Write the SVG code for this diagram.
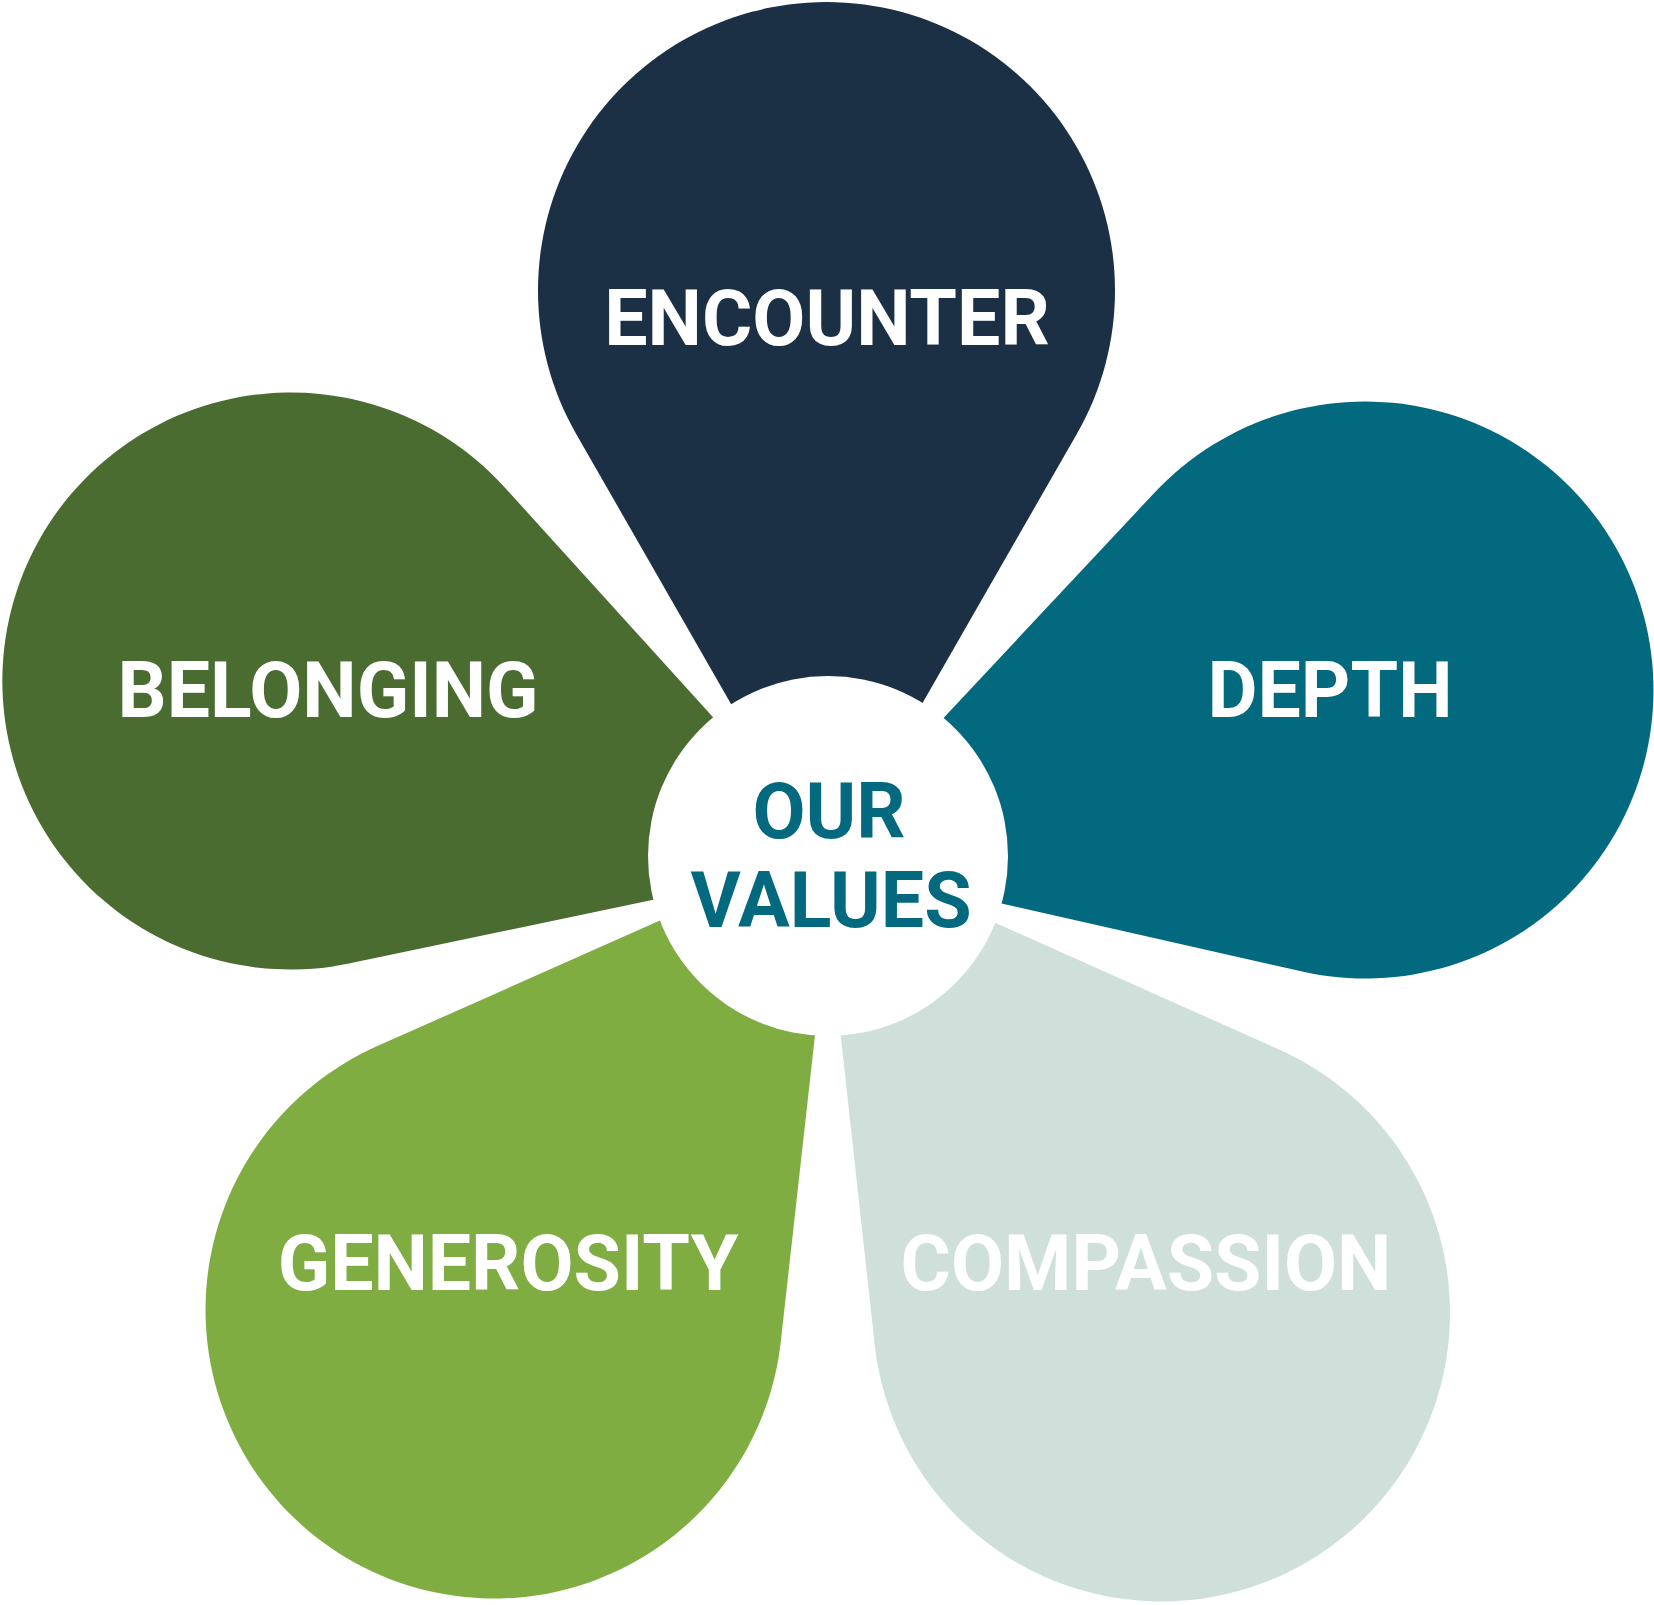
<svg xmlns="http://www.w3.org/2000/svg" width="1654" height="1605" viewBox="0 0 1654 1605">
  <defs>
    <style>
      .lbl { font-family: Roboto, "Liberation Sans", Arial, sans-serif; font-weight: 700; font-size: 77px; fill: #ffffff; text-anchor: middle; }
      .ctr { font-family: Roboto, "Liberation Sans", Arial, sans-serif; font-weight: 700; font-size: 77px; fill: #02697e; text-anchor: middle; }
    </style>
    <path id="petal" d="M 580 0 L 143.5 250.3 A 288.5 288.5 0 1 1 143.5 -250.3 Z"/>
  </defs>
  <rect width="1654" height="1605" fill="#ffffff"/>
  <g id="petal-encounter">
    <use href="#petal" transform="translate(826.5 290.5) rotate(90)" fill="#1b3044"/>
    <text class="lbl" x="827" y="345">ENCOUNTER</text>
  </g>
  <g id="petal-depth">
    <use href="#petal" transform="translate(1365 690) rotate(162.95)" fill="#02697e"/>
    <text class="lbl" x="1330" y="717">DEPTH</text>
  </g>
  <g id="petal-belonging">
    <use href="#petal" transform="translate(290.8 681) rotate(17.98)" fill="#4b6c30"/>
    <text class="lbl" x="328" y="717">BELONGING</text>
  </g>
  <g id="petal-generosity">
    <use href="#petal" transform="translate(494 1310) rotate(-53.8)" fill="#7fad41"/>
    <text class="lbl" x="508" y="1290">GENEROSITY</text>
  </g>
  <g id="petal-compassion">
    <use href="#petal" transform="translate(1161.5 1313) rotate(-126.1)" fill="#cfe0da"/>
    <text class="lbl" x="1146" y="1290">COMPASSION</text>
  </g>
  <g id="center">
    <circle cx="828" cy="856" r="180" fill="#ffffff"/>
    <text class="ctr" x="829" y="838">OUR</text>
    <text class="ctr" x="831" y="927">VALUES</text>
  </g>
  <g id="connectors"/>
</svg>
